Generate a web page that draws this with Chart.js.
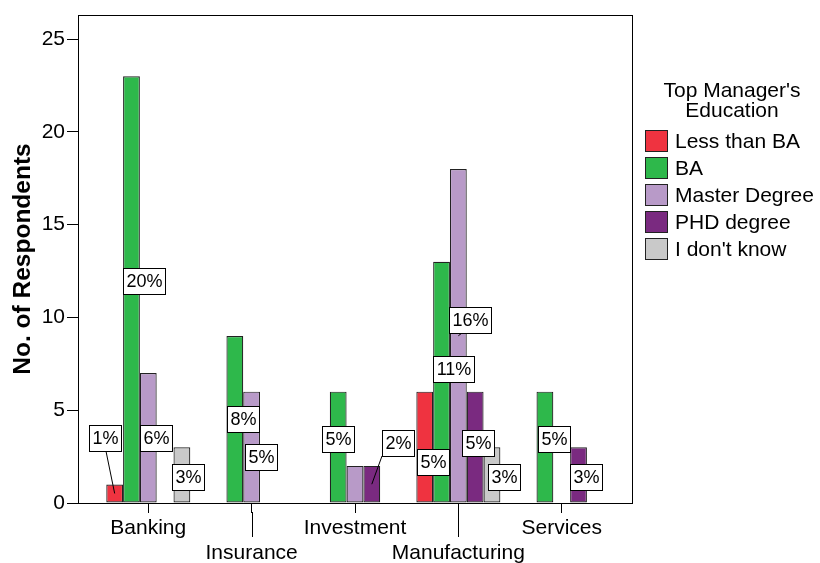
<!DOCTYPE html>
<html>
<head>
<meta charset="utf-8">
<script src="https://cdn.jsdelivr.net/npm/chart.js@4.4.1/dist/chart.umd.min.js"></script>
<style>
  html, body { margin: 0; padding: 0; background: #fff; }
</style>
</head>
<body>
<canvas id="chart" width="820" height="563"></canvas>
<script>
// Data
const sectors = ['Banking', 'Insurance', 'Investment', 'Manufacturing', 'Services'];
const educationLevels = ['Less than BA', 'BA', 'Master Degree', 'PHD degree', "I don't know"];
const lessThanBA = [1, 0, 0, 6, 0];
const baDegree = [23, 9, 6, 13, 6];
const masterDegree = [7, 6, 2, 18, 0];
const phdDegree = [0, 0, 2, 6, 3];
const dontKnow = [3, 0, 0, 3, 0];
const yTicks = [0, 5, 10, 15, 20, 25];

const seriesValues = [lessThanBA, baDegree, masterDegree, phdDegree, dontKnow];
const colors = ['#ef3340', '#2eb84b', '#b89ac8', '#7a2a80', '#c9c9c9'];
const total = seriesValues.flat().reduce((a, b) => a + b, 0);

// which bars carry a percentage box, and where the box sits relative to the bar
// dx: box left minus bar left, dy: box centre minus bar middle, lead: leader start (fraction of box width)
const labelSpots = [
    { ds: 0, cat: 0, dx: -17, dy: -55, lead: 0.53 },
    { ds: 1, cat: 0, dx: 0, dy: -8 },
    { ds: 2, cat: 0, dx: 0, dy: 0 },
    { ds: 4, cat: 0, dx: -1, dy: 2 },
    { ds: 1, cat: 1, dx: 1, dy: 0 },
    { ds: 2, cat: 1, dx: 2, dy: 10 },
    { ds: 1, cat: 2, dx: -8, dy: -8 },
    { ds: 3, cat: 2, dx: 19, dy: -41, lead: 0 },
    { ds: 0, cat: 3, dx: 1, dy: 15 },
    { ds: 1, cat: 3, dx: 0, dy: -13 },
    { ds: 2, cat: 3, dx: -1, dy: -16, lead: 0.31 },
    { ds: 3, cat: 3, dx: -5, dy: -4 },
    { ds: 4, cat: 3, dx: 4, dy: 2 },
    { ds: 1, cat: 4, dx: 1, dy: -8 },
    { ds: 3, cat: 4, dx: 0, dy: 2 }
];

const FONT = '"Liberation Sans", Arial, Helvetica, sans-serif';

// Frame, long ticks for the second label row
const framePlugin = {
    id: 'frame',
    afterDraw(chart) {
        const { ctx, chartArea: a } = chart;
        const xs = chart.scales.x;
        ctx.save();
        ctx.strokeStyle = '#000';
        ctx.lineWidth = 1;
        ctx.strokeRect(Math.round(a.left) + 0.5, Math.round(a.top) + 0.5,
            Math.round(a.right - a.left), Math.round(a.bottom - a.top));
        sectors.forEach((s, i) => {
            if (i % 2 === 1) {
                const x = Math.round(xs.getPixelForValue(i)) + 0.5;
                ctx.beginPath();
                ctx.moveTo(x, a.bottom + 9);
                ctx.lineTo(x, a.bottom + 34);
                ctx.stroke();
            }
        });
        ctx.restore();
    }
};

// Percentage boxes
const boxLabelPlugin = {
    id: 'boxLabels',
    afterDatasetsDraw(chart) {
        const ctx = chart.ctx;
        ctx.save();
        ctx.font = '18px ' + FONT;
        ctx.textAlign = 'center';
        ctx.textBaseline = 'middle';
        ctx.lineWidth = 1;
        ctx.strokeStyle = '#000';
        labelSpots.forEach(spot => {
            const bar = chart.getDatasetMeta(spot.ds).data[spot.cat];
            const value = seriesValues[spot.ds][spot.cat];
            const text = Math.round(value / total * 100) + '%';
            const barLeft = bar.x - bar.width / 2;
            const barMid = (bar.y + bar.base) / 2;
            const w = Math.round(ctx.measureText(text).width + 6);
            const h = 26;
            const left = Math.round(barLeft + spot.dx);
            const top = Math.round(barMid + spot.dy - h / 2);
            if (spot.lead !== undefined) {
                ctx.beginPath();
                ctx.moveTo(left + w * spot.lead, top + h);
                ctx.lineTo(bar.x, barMid);
                ctx.stroke();
            }
            ctx.fillStyle = '#fff';
            ctx.fillRect(left + 0.5, top + 0.5, w, h);
            ctx.strokeRect(left + 0.5, top + 0.5, w, h);
            ctx.fillStyle = '#000';
            ctx.fillText(text, left + 0.5 + w / 2, top + 0.5 + h / 2 + 1);
        });
        ctx.restore();
    }
};

// Legend on the right
const legendPlugin = {
    id: 'sideLegend',
    afterDraw(chart) {
        const ctx = chart.ctx;
        ctx.save();
        ctx.font = '21px ' + FONT;
        ctx.fillStyle = '#000';
        ctx.textAlign = 'center';
        ctx.textBaseline = 'middle';
        ctx.fillText("Top Manager's", 732, 91);
        ctx.fillText('Education', 732, 111);
        ctx.textAlign = 'left';
        chart.data.datasets.forEach((ds, i) => {
            const y = 130 + i * 26.9;
            ctx.fillStyle = ds.backgroundColor;
            ctx.fillRect(645, Math.round(y), 23, 22);
            ctx.strokeStyle = '#222';
            ctx.lineWidth = 1;
            ctx.strokeRect(645.5, Math.round(y) + 0.5, 22, 21);
            ctx.fillStyle = '#000';
            ctx.fillText(ds.label, 675, Math.round(y) + 12);
        });
        ctx.restore();
    }
};

const datasets = educationLevels.map((name, i) => ({
    label: name,
    data: seriesValues[i].map((v, c) => ({ x: c, y: v })),
    backgroundColor: colors[i],
    borderColor: '#222',
    borderWidth: 1.2,
    borderSkipped: false,
    inflateAmount: 0,
    barPercentage: 1,
    categoryPercentage: 0.813
}));

new Chart(document.getElementById('chart'), {
    type: 'bar',
    data: { datasets: datasets },
    options: {
        responsive: false,
        animation: false,
        devicePixelRatio: 1,
        layout: { padding: { top: 15, right: 188, left: 0, bottom: 0 } },
        plugins: {
            legend: { display: false },
            tooltip: { enabled: false }
        },
        scales: {
            x: {
                type: 'linear',
                offset: false,
                min: -0.68,
                max: 4.68,
                afterBuildTicks: scale => {
                    scale.ticks = sectors.map((s, i) => ({ value: i }));
                },
                afterFit: scale => { scale.height = 60; },
                ticks: {
                    autoSkip: false,
                    maxRotation: 0,
                    padding: 3,
                    color: '#000',
                    font: { family: FONT, size: 21, lineHeight: 1.17 },
                    callback: value => (value % 2 === 1 ? ['', sectors[value]] : sectors[value])
                },
                grid: { offset: false, drawOnChartArea: false, tickLength: 10, color: '#000' },
                border: { display: true, color: '#000', width: 1 }
            },
            y: {
                min: 0,
                max: 26.3,
                afterBuildTicks: scale => {
                    scale.ticks = yTicks.map(v => ({ value: v }));
                },
                afterFit: scale => { scale.width = 78; },
                ticks: {
                    padding: 2,
                    color: '#000',
                    font: { family: FONT, size: 21 }
                },
                grid: { drawOnChartArea: false, tickLength: 11, color: '#000' },
                border: { display: true, color: '#000', width: 1 },
                title: {
                    display: true,
                    text: 'No. of Respondents',
                    color: '#000',
                    font: { family: FONT, size: 24.5, weight: 'bold' },
                    padding: { top: 9, bottom: 0 }
                }
            }
        }
    },
    plugins: [framePlugin, boxLabelPlugin, legendPlugin]
});
</script>
</body>
</html>
